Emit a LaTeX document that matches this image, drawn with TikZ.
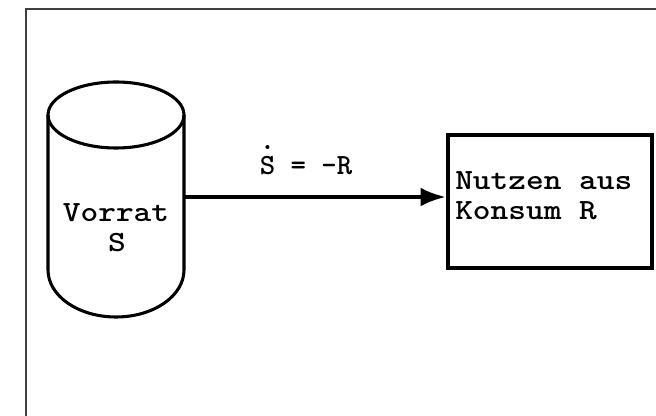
\documentclass[tikz,border=0pt]{standalone}
\usetikzlibrary{arrows.meta}
% horizontally widened typewriter text
\newcommand{\widett}[1]{\scalebox{1.15}[1]{#1}}
% typewriter dot over a letter (same monospace cell)
\newcommand{\typedot}[1]{\makebox[0pt][l]{\raisebox{0.87em}{.}}#1}
\begin{document}
\begin{tikzpicture}[x=0.75pt,y=-0.75pt,
  frameline/.style={draw=black!75,line width=1pt},
  tankline/.style={line width=2.3pt},
  boxstyle/.style={draw,line width=3pt,minimum width=153pt,minimum height=99.75pt,inner sep=0pt},
  flowarrow/.style={line width=3pt,-{Latex[length=19pt,width=14pt]}},
  tw/.style={font=\fontsize{22}{22.5}\selectfont\ttfamily\bfseries,inner sep=0pt}]
\useasboundingbox (0,0) rectangle (656,416);

% outer frame (open to the right and bottom)
\draw[frameline] (26,416) -- (26,9) -- (656,9);

% storage tank
\node[minimum width=102pt,minimum height=116.25pt,inner sep=0pt,outer sep=0pt] (tank) at (116,192.5) {};
\draw[tankline] (116,115) ellipse [x radius=68,y radius=33];
\draw[tankline] (48,115) -- (48,270) arc[start angle=180,end angle=0,x radius=68,y radius=47] -- (184,115);
\node[tw,anchor=base] (vorrat) at (116,222) {\widett{Vorrat}};
\node[tw,anchor=base] (stock) at (117,252) {\widett{S}};

% consumption box
\node[boxstyle] (box) at (550,201.5) {};
\node[tw,anchor=base west] (utility) at (455,190) {\widett{Nutzen aus}};
\node[tw,anchor=base west] (consume) at (455,220) {\widett{Konsum R}};

% flow from stock to consumption
\coordinate (flow) at (300,197);
\draw[flowarrow] (tank.east |- flow) -- (box.west |- flow);
\node[tw,anchor=base] (rate) at (306,175) {\typedot{S} = -R};
\end{tikzpicture}
\end{document}
